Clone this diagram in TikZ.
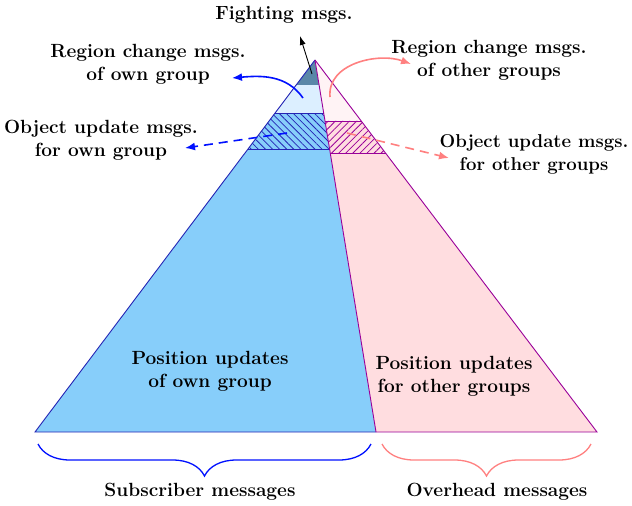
\documentclass[tikz,border=0pt]{standalone}
\usetikzlibrary{calc,patterns.meta,arrows.meta,decorations.pathreplacing}
\definecolor{lblue}{HTML}{87CEFA}
\definecolor{pblue}{HTML}{DCEFFF}
\definecolor{dblue}{HTML}{5A87A8}
\definecolor{eblue}{HTML}{2424B4}
\definecolor{lpink}{HTML}{FFDDE0}
\definecolor{ppink}{HTML}{FFF3F5}
\definecolor{epurp}{HTML}{990099}
\definecolor{apink}{HTML}{FF8080}
\definecolor{ablue}{HTML}{0010FF}
\tikzset{
  lbl/.style={font=\fontsize{19.1}{23}\selectfont\bfseries, align=center, inner sep=0pt},
  arr/.style={-{Latex[length=10pt,width=8pt]}, line width=1.6pt},
  brc/.style={decorate, decoration={brace, mirror, amplitude=32pt}, line width=1.3pt},
}
\begin{document}
\begin{tikzpicture}[x=1pt,y=-1pt]
\useasboundingbox (0,0) rectangle (632,506);
% main points
\coordinate (apex) at (315,60);
\coordinate (bl) at (35,432);
\coordinate (bm) at (376,432);
\coordinate (br) at (597,432);
% points on left edge / divider / right edge
\coordinate (l85) at ($(apex)!{25/372}!(bl)$);
\coordinate (d85) at ($(apex)!{25/372}!(bm)$);
\coordinate (l113) at ($(apex)!{53/372}!(bl)$);
\coordinate (d113) at ($(apex)!{53/372}!(bm)$);
\coordinate (l149) at ($(apex)!{89/372}!(bl)$);
\coordinate (d149) at ($(apex)!{89/372}!(bm)$);
\coordinate (d121) at ($(apex)!{61/372}!(bm)$);
\coordinate (r121) at ($(apex)!{61/372}!(br)$);
\coordinate (d153) at ($(apex)!{93/372}!(bm)$);
\coordinate (r153) at ($(apex)!{93/372}!(br)$);
% left side fills
\fill[lblue] (apex) -- (bl) -- (bm) -- cycle;
\fill[pblue] (l85) -- (l113) -- (d113) -- (d85) -- cycle;
\fill[dblue] (apex) -- (l85) -- (d85) -- cycle;
\fill[lblue] (l113) -- (l149) -- (d149) -- (d113) -- cycle;
\fill[pattern={Lines[angle=-45,distance=5pt,line width=0.8pt]}, pattern color=eblue]
  (l113) -- (l149) -- (d149) -- (d113) -- cycle;
% right side fills
\fill[lpink] (apex) -- (bm) -- (br) -- cycle;
\fill[ppink] (apex) -- (d121) -- (r121) -- cycle;
\fill[pattern={Lines[angle=45,distance=5pt,line width=0.8pt]}, pattern color=epurp]
  (d121) -- (d153) -- (r153) -- (r121) -- cycle;
% outlines
\draw[epurp, line width=0.9pt] (apex) -- (br) -- (bm);
\draw[epurp, line width=0.9pt] (d121) -- (r121) (d153) -- (r153);
\draw[eblue, line width=0.9pt] (apex) -- (bl) -- (bm);
\draw[eblue, line width=0.9pt] (l113) -- (d113) (l149) -- (d149);
\draw[epurp, line width=0.9pt] (apex) -- (bm);
% labels
\node[lbl] (fight) at (284,15) {Fighting msgs.};
\node[lbl] (rcown) at (148,64) {Region change msgs.\\of own group};
\node[lbl] (rcoth) at (489,60) {Region change msgs.\\of other groups};
\node[lbl] (ouown) at (101,140) {Object update msgs.\\for own group};
\node[lbl, font=\fontsize{18.6}{23}\selectfont\bfseries] (ouoth) at (534,154) {Object update msgs.\\for other groups};
\node[lbl] (puown) at (210,371) {Position updates\\of own group};
\node[lbl] (puoth) at (454,376) {Position updates\\for other groups};
\node[lbl] (subs) at (200,492) {Subscriber messages};
\node[lbl] (over) at (497,492) {Overhead messages};
% arrow ends
\coordinate (fs) at (312,74);
\coordinate (fe) at (300,36);
\coordinate (bs) at (303,98);
\coordinate (be) at (232,78);
\coordinate (ps) at (330,97);
\coordinate (pe) at (411,64);
\coordinate (ds) at (287,133);
\coordinate (de) at (185,148);
\coordinate (qs) at (347,133);
\coordinate (qe) at (449,158);
\draw[-{Latex[length=9pt,width=6pt]}, line width=0.9pt] (fs) -- (fe);
\draw[arr, ablue] (bs) to[out=125,in=5] (be);
\draw[arr, apink] (ps) to[out=95,in=160] (pe);
\draw[arr, ablue, dash pattern=on 9pt off 6pt] (ds) -- (de);
\draw[arr, apink, dash pattern=on 9pt off 6pt] (qs) -- (qe);
% braces
\coordinate (b1s) at (38,444);
\coordinate (b1e) at (371,444);
\coordinate (b2s) at (382,444);
\coordinate (b2e) at (591,444);
\draw[brc, ablue] (b1s) -- (b1e);
\draw[brc, apink] (b2s) -- (b2e);
\end{tikzpicture}
\end{document}
